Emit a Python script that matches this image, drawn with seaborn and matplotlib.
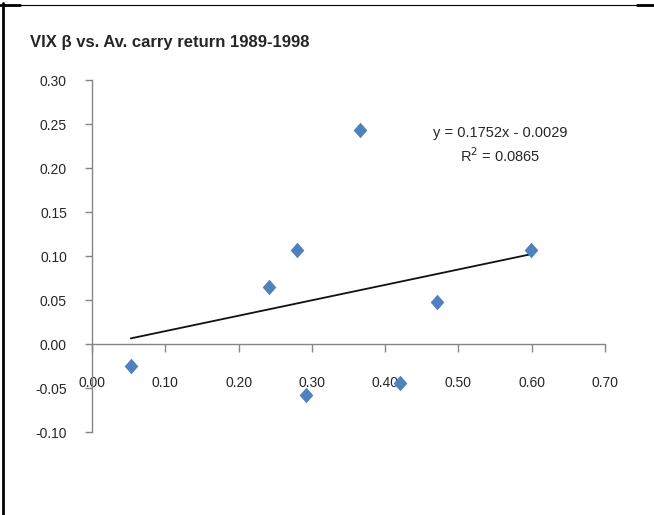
import numpy as np
import pandas as pd
import matplotlib
matplotlib.use('Agg')
import matplotlib.pyplot as plt
from matplotlib.lines import Line2D
import seaborn as sns

# VIX beta vs. average carry return 1989-1998
vix_beta = [0.053, 0.241, 0.280, 0.292, 0.366, 0.420, 0.471, 0.599]
carry_return = [-0.025, 0.065, 0.107, -0.058, 0.243, -0.044, 0.048, 0.107]

# trendline from the chart label
slope = 0.1752
intercept = -0.0029
r_squared = 0.0865

x_ticks = [0.0, 0.1, 0.2, 0.3, 0.4, 0.5, 0.6, 0.7]
y_ticks = [-0.10, -0.05, 0.0, 0.05, 0.10, 0.15, 0.20, 0.25, 0.30]

df = pd.DataFrame({'beta': vix_beta, 'ret': carry_return})

sns.set_style('white')
plt.rcParams['font.family'] = ['Liberation Sans', 'DejaVu Sans']

fig = plt.figure(figsize=(6.54, 5.15), dpi=100)
ax = fig.add_axes([92 / 654, 83 / 515, 513 / 654, 352 / 515])

diamond = [(0, 1), (0.88, 0), (0, -1), (-0.88, 0), (0, 1)]
sns.scatterplot(data=df, x='beta', y='ret', marker=diamond, s=125,
                color='#4F81BD', linewidth=0, ax=ax, zorder=3)

# trendline over the data range
xs = np.array([min(vix_beta), max(vix_beta)])
sns.lineplot(x=xs, y=slope * xs + intercept, color='#111111', linewidth=1.3, ax=ax)

ax.text(0.557, 0.226, f'y = {slope}x - {abs(intercept):.4f}\nR$^2$ = {r_squared}',
        ha='center', va='center', fontsize=10.5, linespacing=1.4)

ax.set_xlim(0, 0.7)
ax.set_ylim(-0.10, 0.30)
ax.set_xticks(x_ticks)
ax.set_yticks(y_ticks)
ax.set_xticklabels([f'{v:.2f}' for v in x_ticks])
ax.set_yticklabels([f'{v:.2f}' for v in y_ticks])
ax.set_xlabel('')
ax.set_ylabel('')

for s in ['top', 'right']:
    ax.spines[s].set_visible(False)
ax.spines['bottom'].set_position(('data', 0))
for s in ['bottom', 'left']:
    ax.spines[s].set_color('#868686')
    ax.spines[s].set_linewidth(1)
ax.tick_params(axis='x', direction='out', length=6, width=1, color='#868686',
               pad=17, labelsize=10, bottom=True)
ax.tick_params(axis='y', direction='out', length=5, width=1, color='#868686',
               pad=13, labelsize=10, left=True)

fig.text(30 / 654, 1 - 42 / 515, 'VIX β vs. Av. carry return 1989-1998',
         fontsize=12, fontweight='bold', va='center', ha='left')

# outer frame bits
fig.add_artist(Line2D([0, 1], [1 - 5 / 515] * 2, color='black', lw=0.8))
fig.add_artist(Line2D([0, 20 / 654], [1 - 5 / 515] * 2, color='black', lw=2))
fig.add_artist(Line2D([637 / 654, 1], [1 - 5 / 515] * 2, color='black', lw=2))
fig.add_artist(Line2D([3 / 654] * 2, [0, 1 - 3 / 515], color='black', lw=2))

plt.savefig('out.png', dpi=100)
